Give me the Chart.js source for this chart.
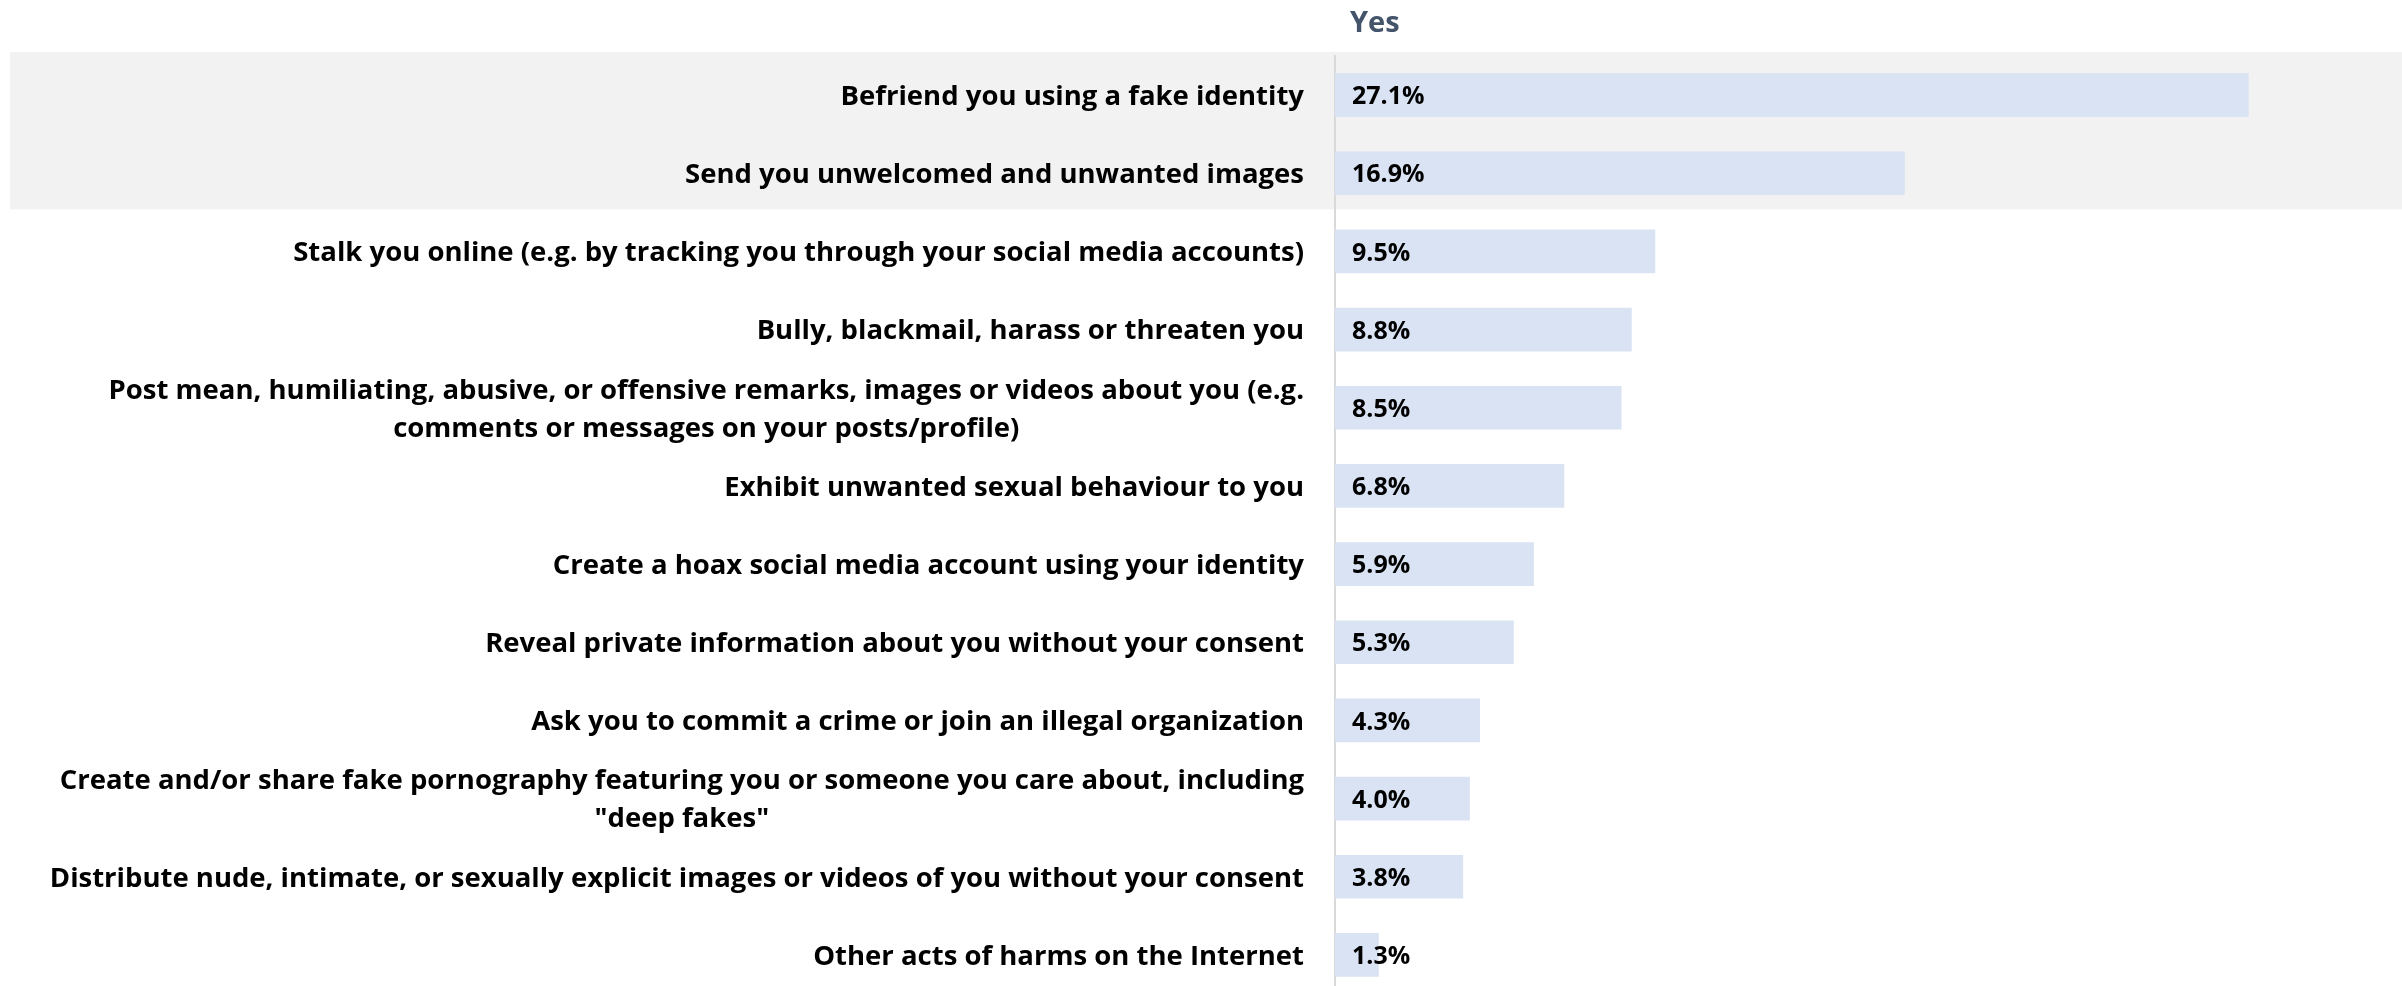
<!DOCTYPE html>
<html>
<head>
<meta charset="utf-8">
<script src="https://cdn.jsdelivr.net/npm/chart.js@4/dist/chart.umd.min.js"></script>
<style>
  html, body { margin: 0; padding: 0; background: #fff; overflow: hidden; }
  #wrap { width: 2402px; height: 996px; }
</style>
</head>
<body>
<div id="wrap"><canvas id="harmChart" width="2402" height="996"></canvas></div>
<script>
// Survey answers, "Yes" share per type of online harm (percent)
const harms = [
  ["Befriend you using a fake identity"],
  ["Send you unwelcomed and unwanted images"],
  ["Stalk you online (e.g. by tracking you through your social media accounts)"],
  ["Bully, blackmail, harass or threaten you"],
  ["Post mean, humiliating, abusive, or offensive remarks, images or videos about you (e.g.", "comments or messages on your posts/profile)"],
  ["Exhibit unwanted sexual behaviour to you"],
  ["Create a hoax social media account using your identity"],
  ["Reveal private information about you without your consent"],
  ["Ask you to commit a crime or join an illegal organization"],
  ["Create and/or share fake pornography featuring you or someone you care about, including", "\"deep fakes\""],
  ["Distribute nude, intimate, or sexually explicit images or videos of you without your consent"],
  ["Other acts of harms on the Internet"]
];
const yesValues = [27.1, 16.9, 9.5, 8.8, 8.5, 6.8, 5.9, 5.3, 4.3, 4.0, 3.8, 1.3];
const seriesName = "Yes";
const highlightRows = [0, 1];   // rows with the grey band behind them

const catFont = "bold 27.5px 'Open Sans', sans-serif";
const valueFont = "bold 25px 'Open Sans', sans-serif";

// grey band behind the top rows
const bandPlugin = {
  id: 'band',
  beforeDraw(chart) {
    const y = chart.scales.y;
    const step = y.getPixelForTick(1) - y.getPixelForTick(0);
    const top = y.getPixelForTick(highlightRows[0]) - step / 2 - 4;
    const bottom = y.getPixelForTick(highlightRows[highlightRows.length - 1]) + step / 2 - 3;
    const ctx = chart.ctx;
    ctx.save();
    ctx.fillStyle = '#F2F2F2';
    ctx.fillRect(10, top, chart.width - 10, bottom - top);
    ctx.restore();
  }
};

// category names: block right-aligned to the axis, lines centred within the block
const catLabels = {
  id: 'catLabels',
  afterDraw(chart) {
    const ctx = chart.ctx;
    const y = chart.scales.y;
    const right = chart.chartArea.left - 31;
    const lineH = 38;
    ctx.save();
    ctx.font = catFont;
    ctx.fillStyle = '#000';
    ctx.textAlign = 'center';
    ctx.textBaseline = 'middle';
    harms.forEach((lines, i) => {
      const cy = y.getPixelForTick(i) + 2;
      const w = Math.max(...lines.map(l => ctx.measureText(l).width));
      const cx = right - w / 2;
      const y0 = cy - (lines.length - 1) * lineH / 2;
      lines.forEach((l, k) => ctx.fillText(l, cx, y0 + k * lineH));
    });
    ctx.restore();
  }
};

// value inside each bar, plus the series header above the plot
const valueLabels = {
  id: 'valueLabels',
  afterDatasetsDraw(chart) {
    const ctx = chart.ctx;
    const meta = chart.getDatasetMeta(0);
    ctx.save();
    ctx.font = valueFont;
    ctx.fillStyle = '#000';
    ctx.textAlign = 'left';
    ctx.textBaseline = 'middle';
    meta.data.forEach((bar, i) => {
      ctx.fillText(yesValues[i].toFixed(1) + '%', bar.base + 17, bar.y + 2);
    });
    ctx.font = "bold 29px 'Open Sans', sans-serif";
    ctx.fillStyle = '#44546A';
    ctx.textBaseline = 'alphabetic';
    ctx.fillText(seriesName, chart.chartArea.left + 15, 32);
    ctx.restore();
  }
};

new Chart(document.getElementById('harmChart'), {
  type: 'bar',
  data: {
    labels: harms,
    datasets: [{
      label: seriesName,
      data: yesValues,
      backgroundColor: '#DAE3F3',
      borderWidth: 0,
      barPercentage: 0.559,
      categoryPercentage: 1
    }]
  },
  options: {
    indexAxis: 'y',
    responsive: false,
    animation: false,
    devicePixelRatio: 1,
    layout: { padding: { top: 56, right: 55.5, bottom: 2, left: 0 } },
    plugins: {
      legend: { display: false },
      tooltip: { enabled: false }
    },
    scales: {
      x: { display: false, min: 0, max: 30 },
      y: {
        grid: { display: false },
        border: { display: true, color: '#D9D9D9', width: 2 },
        ticks: { display: false },
        afterFit(scale) { scale.width = 1335; }
      }
    }
  },
  plugins: [bandPlugin, catLabels, valueLabels]
});
</script>
</body>
</html>
